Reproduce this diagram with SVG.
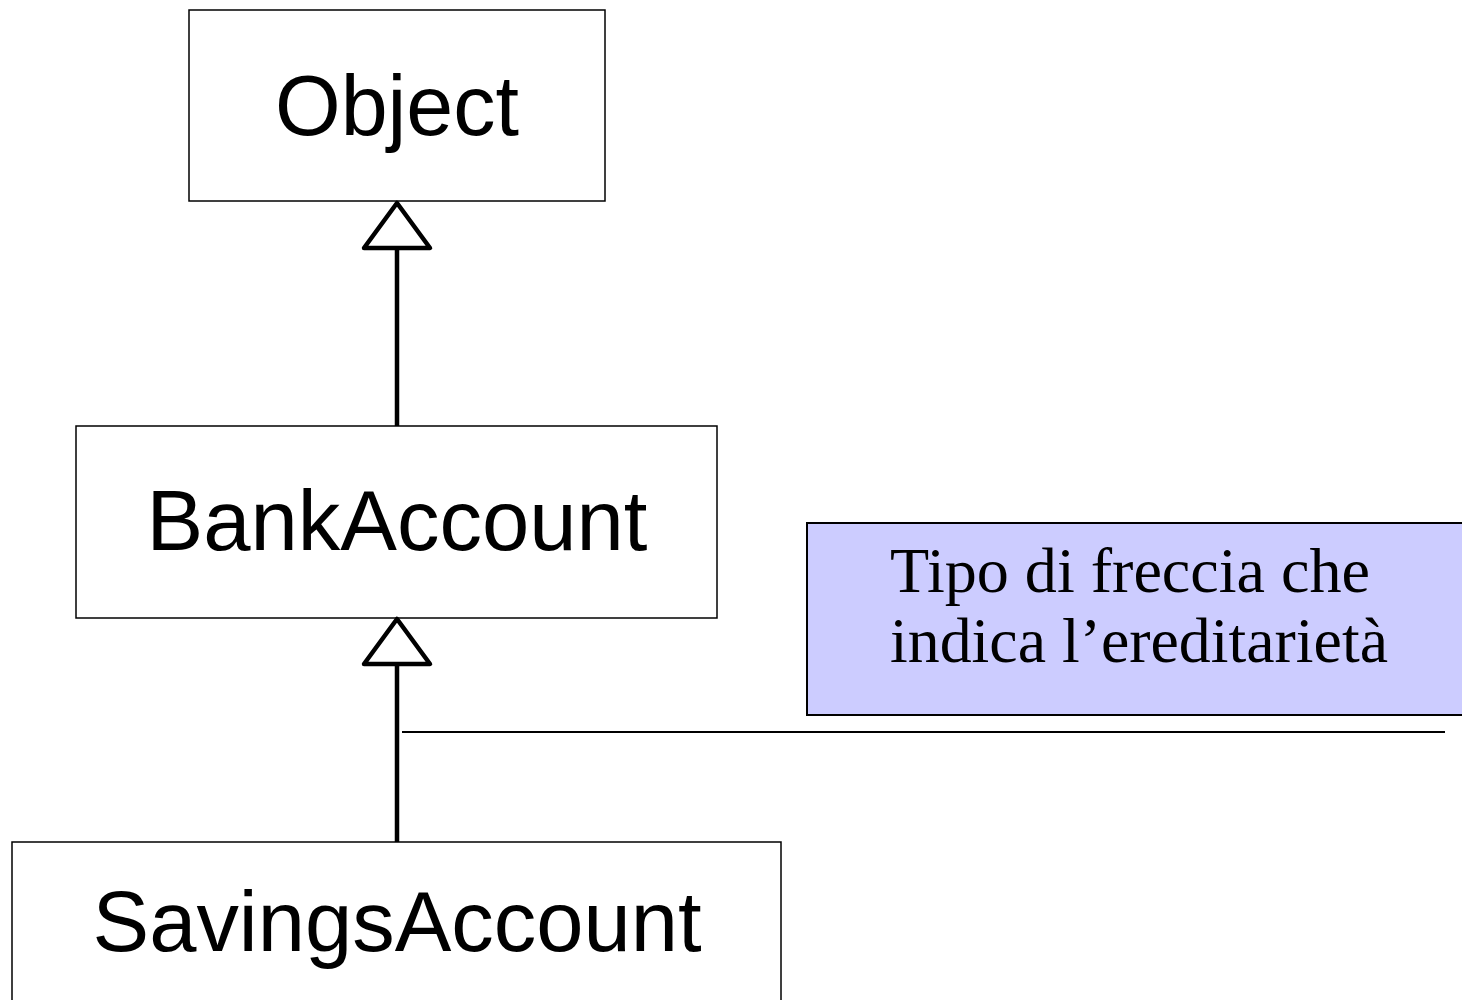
<svg xmlns="http://www.w3.org/2000/svg" width="1462" height="1000" viewBox="0 0 1462 1000">
  <style>
    .box { fill: #ffffff; stroke: #000000; stroke-width: 1.5; }
    .label { font-family: "Liberation Sans", Arial, sans-serif; font-size: 85px; fill: #000000; text-anchor: middle; }
    .edge { stroke: #000000; stroke-width: 4.5; fill: none; }
    .head { fill: #ffffff; stroke: #000000; stroke-width: 4.5; stroke-linejoin: round; }
    .note { fill: #ccccff; stroke: #000000; stroke-width: 2; }
    .note-text { font-family: "Liberation Serif", "Times New Roman", serif; font-size: 64px; fill: #000000; }
  </style>

  <!-- class nodes -->
  <g id="node-object">
    <rect class="box" x="189" y="10" width="416" height="191"/>
    <text class="label" x="397" y="135" textLength="244" lengthAdjust="spacingAndGlyphs">Object</text>
  </g>
  <g id="node-bankaccount">
    <rect class="box" x="76" y="426" width="641" height="192"/>
    <text class="label" x="397" y="550" textLength="501" lengthAdjust="spacingAndGlyphs">BankAccount</text>
  </g>
  <g id="node-savingsaccount">
    <rect class="box" x="12" y="842" width="769" height="190"/>
    <text class="label" x="397" y="951" textLength="609" lengthAdjust="spacingAndGlyphs">SavingsAccount</text>
  </g>

  <!-- inheritance connectors with hollow triangle heads -->
  <g id="connectors">
    <line class="edge" x1="397" y1="246" x2="397" y2="426"/>
    <polygon class="head" points="397,203 430,248 364,248"/>
    <line class="edge" x1="397" y1="663" x2="397" y2="842"/>
    <polygon class="head" points="397,619 430,664 364,664"/>
    <line x1="402" y1="732" x2="1445" y2="732" stroke="#000000" stroke-width="2"/>
  </g>

  <!-- explanatory note -->
  <g id="note">
    <rect class="note" x="807" y="523" width="670" height="192"/>
    <text class="note-text" x="890" y="592" textLength="480" lengthAdjust="spacingAndGlyphs">Tipo di freccia che</text>
    <text class="note-text" x="890" y="662" textLength="498" lengthAdjust="spacingAndGlyphs">indica l’ereditarietà</text>
  </g>
</svg>
